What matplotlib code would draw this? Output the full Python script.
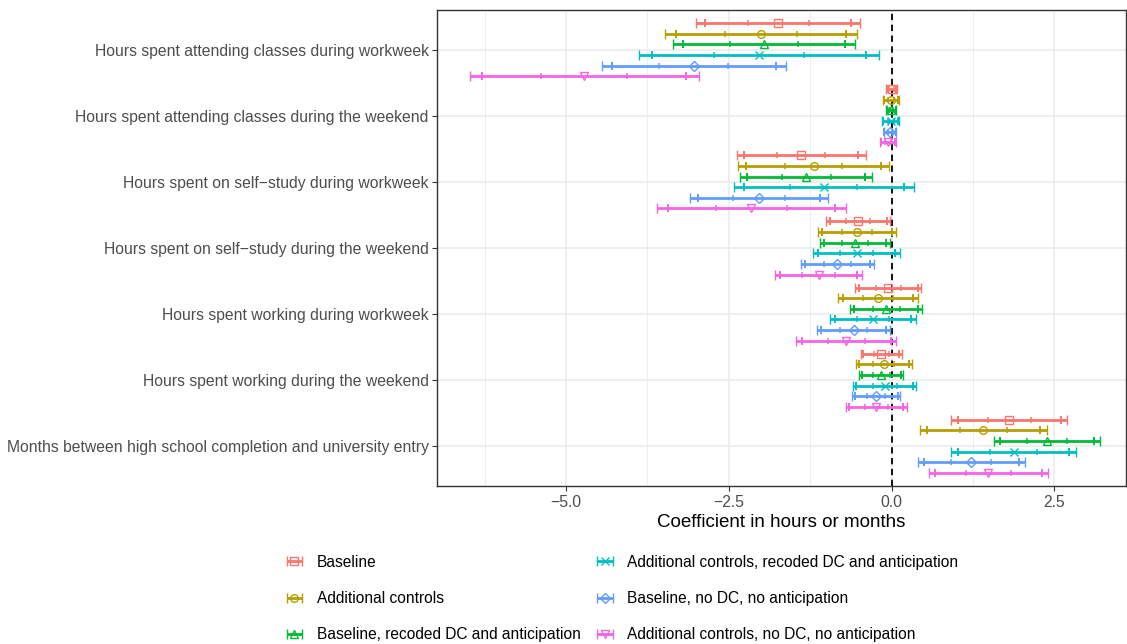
import matplotlib
matplotlib.use("Agg")
import matplotlib.pyplot as plt
import numpy as np

plt.rcParams['font.family'] = ['Liberation Sans', 'DejaVu Sans']

categories = [
    "Hours spent attending classes during workweek",
    "Hours spent attending classes during the weekend",
    "Hours spent on self\u2212study during workweek",
    "Hours spent on self\u2212study during the weekend",
    "Hours spent working during workweek",
    "Hours spent working during the weekend",
    "Months between high school completion and university entry",
]

models = [
    "Baseline",
    "Additional controls",
    "Baseline, recoded DC and anticipation",
    "Additional controls, recoded DC and anticipation",
    "Baseline, no DC, no anticipation",
    "Additional controls, no DC, no anticipation",
]

# point estimates, one list per model (rows follow categories)
est_baseline        = [-1.738, 0.000, -1.385, -0.511, -0.051, -0.158, 1.810]
est_addctrl         = [-2.004, -0.010, -1.196, -0.532, -0.210, -0.118, 1.411]
est_base_recoded    = [-1.963, -0.005, -1.309, -0.563, -0.081, -0.158, 2.382]
est_add_recoded     = [-2.035, -0.010, -1.043, -0.537, -0.287, -0.107, 1.876]
est_base_nodc       = [-3.037, -0.025, -2.035, -0.833, -0.583, -0.235, 1.227]
est_add_nodc        = [-4.720, -0.050, -2.152, -1.120, -0.695, -0.235, 1.488]

# half-width of the widest (99%) interval
hw_baseline         = [1.260, 0.085, 0.985, 0.494, 0.506, 0.311, 0.890]
hw_addctrl          = [1.472, 0.120, 1.163, 0.601, 0.609, 0.427, 0.979]
hw_base_recoded     = [1.400, 0.077, 1.015, 0.532, 0.550, 0.340, 0.813]
hw_add_recoded      = [1.840, 0.130, 1.380, 0.662, 0.660, 0.490, 0.960]
hw_base_nodc        = [1.410, 0.097, 1.054, 0.563, 0.557, 0.368, 0.820]
hw_add_nodc         = [1.756, 0.120, 1.446, 0.664, 0.767, 0.470, 0.920]

estimates = [est_baseline, est_addctrl, est_base_recoded, est_add_recoded, est_base_nodc, est_add_nodc]
halfwidths = [hw_baseline, hw_addctrl, hw_base_recoded, hw_add_recoded, hw_base_nodc, hw_add_nodc]

colors = ["#F8766D", "#B79F00", "#00BA38", "#00BFC4", "#619CFF", "#F564E3"]
markers = ["s", "o", "^", "x", "D", "v"]
msizes = [5.5, 5.5, 6, 6, 5, 6]

fig = plt.figure(figsize=(11.27, 6.44), dpi=100)
ax = fig.add_axes([437/1127, 1 - 486/644, (1126-437)/1127, (486-10)/644])

ax.set_xlim(-6.98, 3.6)
ax.set_ylim(7.6, 0.4)

# grid
for xv in [-5.0, -2.5, 0.0, 2.5]:
    ax.axvline(xv, color="#EBEBEB", lw=1.1, zorder=0)
for xv in [-6.25, -3.75, -1.25, 1.25]:
    ax.axvline(xv, color="#EBEBEB", lw=0.6, zorder=0)
for yv in range(1, 8):
    ax.axhline(yv, color="#EBEBEB", lw=1.1, zorder=0)

ax.axvline(0, color="black", lw=1.3, ls=(0, (3.5, 2.5)), zorder=1)

ycat = np.arange(1, 8)
step = 0.161
handles = []
for i in range(6):
    y = ycat + (i - 2.5) * step
    e = np.array(estimates[i])
    h = np.array(halfwidths[i])
    c = colors[i]
    cont = ax.errorbar(e, y, xerr=h, fmt=markers[i], mfc='none', mec=c, ms=msizes[i],
                       mew=1.0, ecolor=c, elinewidth=2.0, capsize=3.8, capthick=2.4,
                       label=models[i], zorder=3)
    handles.append(cont)
    for frac, ms, mw in [(0.89, 5.2, 1.4), (0.375, 3.8, 1.1)]:
        ax.plot(np.concatenate([e - h*frac, e + h*frac]), np.concatenate([y, y]), ls='none',
                marker='|', ms=ms, mew=mw, color=c, zorder=3)

ax.set_yticks(ycat)
ax.set_yticklabels(categories)
ax.set_xticks([-5.0, -2.5, 0.0, 2.5])
ax.set_xticklabels(["\u22125.0", "\u22122.5", "0.0", "2.5"])
ax.tick_params(axis='both', labelsize=11.3, labelcolor="#4D4D4D", color="#333333",
               length=3.5, width=0.8)
ax.tick_params(axis='y', pad=2.5)
ax.tick_params(axis='x', pad=3)
for s in ax.spines.values():
    s.set_color("#333333")
    s.set_linewidth(1.0)

ax.set_xlabel("Coefficient in hours or months", fontsize=13.5, color="black", labelpad=3)

fig.legend(handles=handles, labels=models, loc='center', bbox_to_anchor=(621/1127, 1 - 598.5/644),
           ncol=2, frameon=False, fontsize=11.2, handlelength=1.4, handletextpad=0.75,
           columnspacing=0.85, labelspacing=1.38, borderpad=0)

fig.savefig("out.png", dpi=100)
